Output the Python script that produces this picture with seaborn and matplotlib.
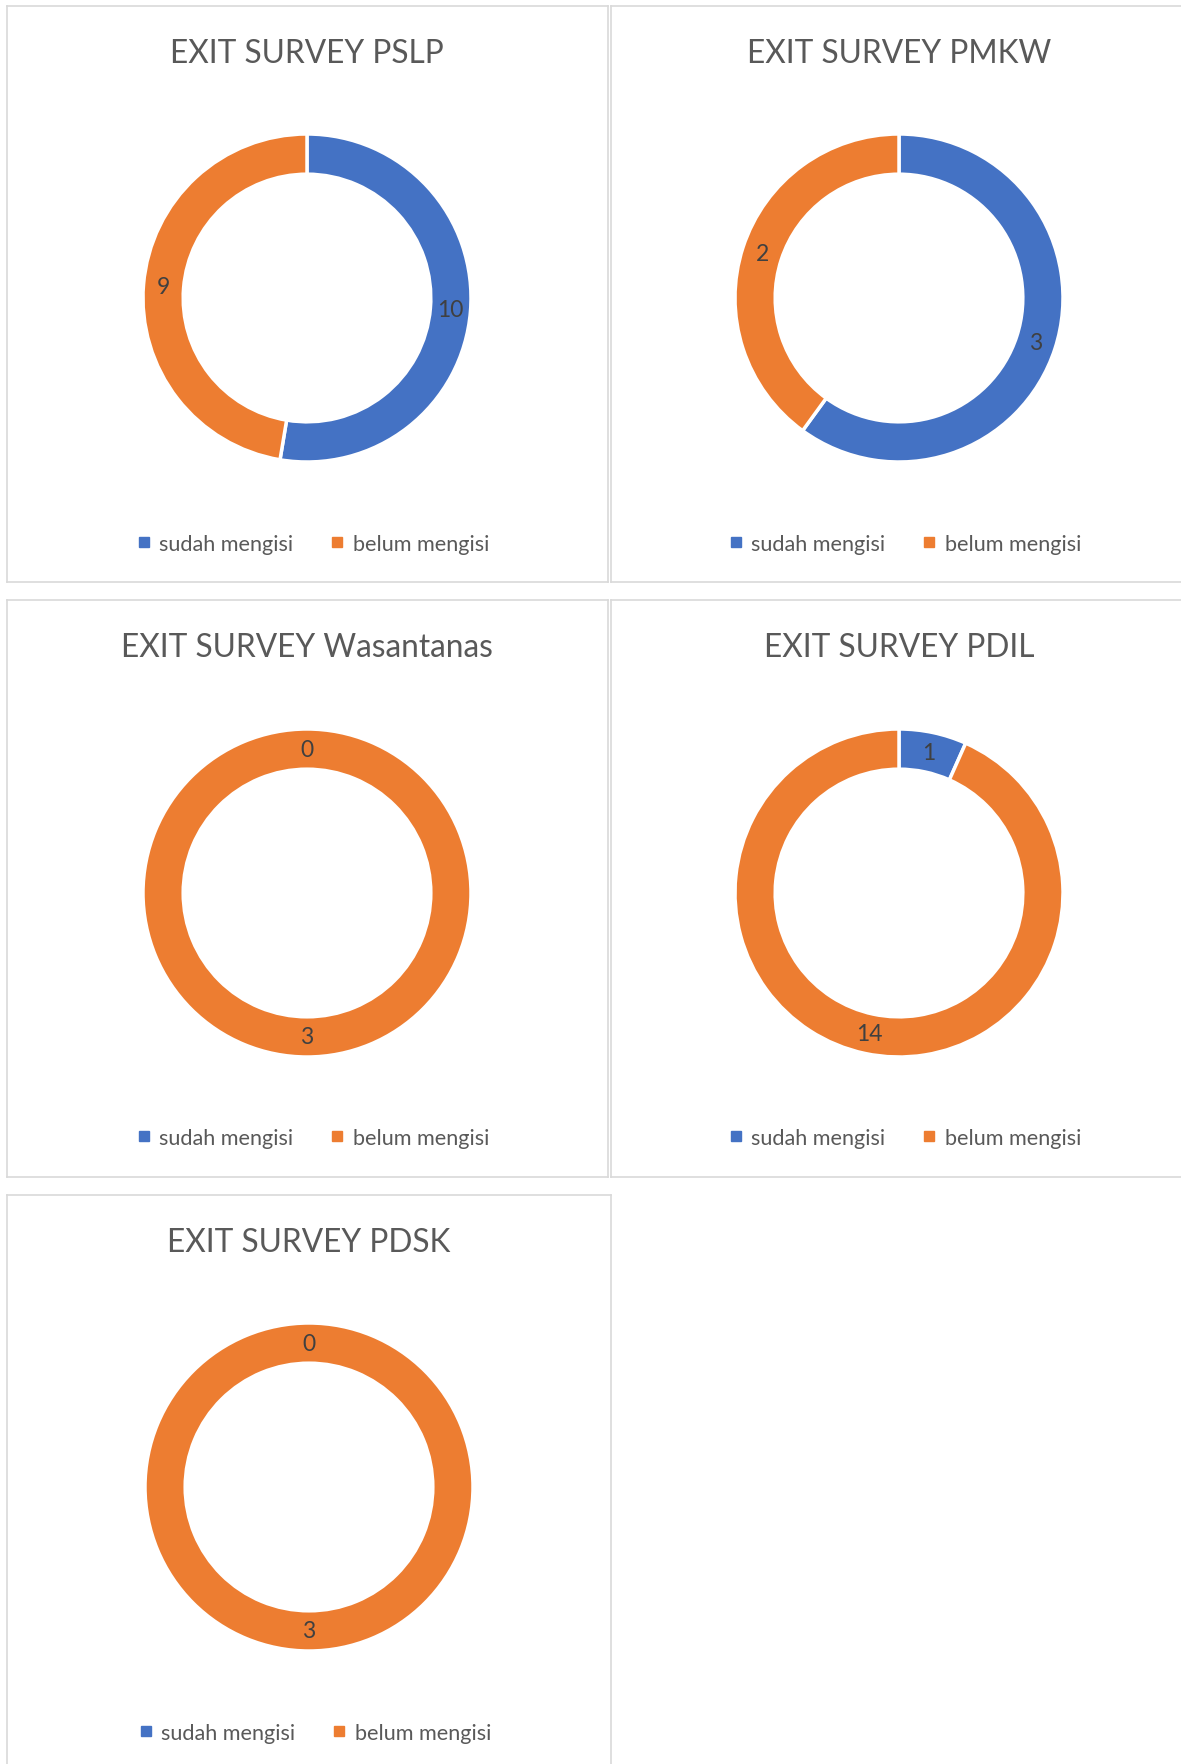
import matplotlib
matplotlib.use("Agg")
import matplotlib.pyplot as plt
from matplotlib.lines import Line2D
import numpy as np
import seaborn as sns

# data
titles = ["EXIT SURVEY PSLP", "EXIT SURVEY PMKW", "EXIT SURVEY Wasantanas",
          "EXIT SURVEY PDIL", "EXIT SURVEY PDSK"]
categories = ["sudah mengisi", "belum mengisi"]
sudah = [10, 3, 0, 1, 0]
belum = [9, 2, 3, 14, 3]

sns.set_theme(style="white")
colors = sns.color_palette(["#4472C4", "#ED7D31"])
plt.rcParams['font.family'] = ['Lato', 'DejaVu Sans']

W, H = 1181, 1765
fig = plt.figure(figsize=(W / 100, H / 100), dpi=100)
fig.patch.set_facecolor("white")

# panel layout in pixels: (left, top, right, bottom), donut centre
panels = [
    ((7, 7, 608, 583), (307, 299)),
    ((611, 7, 1212, 583), (899, 299)),
    ((7, 601, 608, 1178), (307, 894)),
    ((611, 601, 1212, 1178), (899, 894)),
    ((7, 1196, 611, 1790), (309, 1488)),
]
R = 164          # outer radius in px
ring = 0.245     # ring width relative to radius


def fig_rect(x0, y0, x1, y1):
    return [x0 / W, 1 - y1 / H, (x1 - x0) / W, (y1 - y0) / H]


for i, ((x0, y0, x1, y1), (cx, cy)) in enumerate(panels):
    # panel frame
    pax = fig.add_axes(fig_rect(x0, y0, x1, y1))
    pax.set_xticks([])
    pax.set_yticks([])
    pax.set_facecolor("white")
    for sp in pax.spines.values():
        sp.set_color("#D9D9D9")
        sp.set_linewidth(1.2)

    # title
    fig.text(cx / W, 1 - (y0 + 47) / H, titles[i], ha="center", va="center",
             fontsize=22.8, color="#595959")

    # donut
    pad = 1.04
    dax = fig.add_axes(fig_rect(cx - R * pad, cy - R * pad, cx + R * pad, cy + R * pad))
    vals = [sudah[i], belum[i]]
    wedges, _ = dax.pie(vals, colors=colors, startangle=90, counterclock=False,
                        radius=1, wedgeprops=dict(width=ring, edgecolor="white", linewidth=2.5))
    dax.set_xlim(-pad, pad)
    dax.set_ylim(-pad, pad)
    dax.axis("off")

    rmid = 1 - ring / 2
    for w, v in zip(wedges, vals):
        ang = np.deg2rad((w.theta1 + w.theta2) / 2)
        dax.text(rmid * np.cos(ang), rmid * np.sin(ang), str(v), ha="center", va="center",
                 fontsize=16.5, color="#404040")

    # legend
    handles = [Line2D([], [], marker="s", linestyle="", markersize=7, color=c) for c in colors]
    fig.legend(handles, categories, loc="center", ncol=2, frameon=False,
               bbox_to_anchor=((cx + 5) / W, 1 - (y0 + 538) / H),
               fontsize=15.6, labelcolor="#595959", handletextpad=0.3,
               columnspacing=1.65, handlelength=0.8)

fig.savefig("out.png", dpi=100, facecolor="white")
